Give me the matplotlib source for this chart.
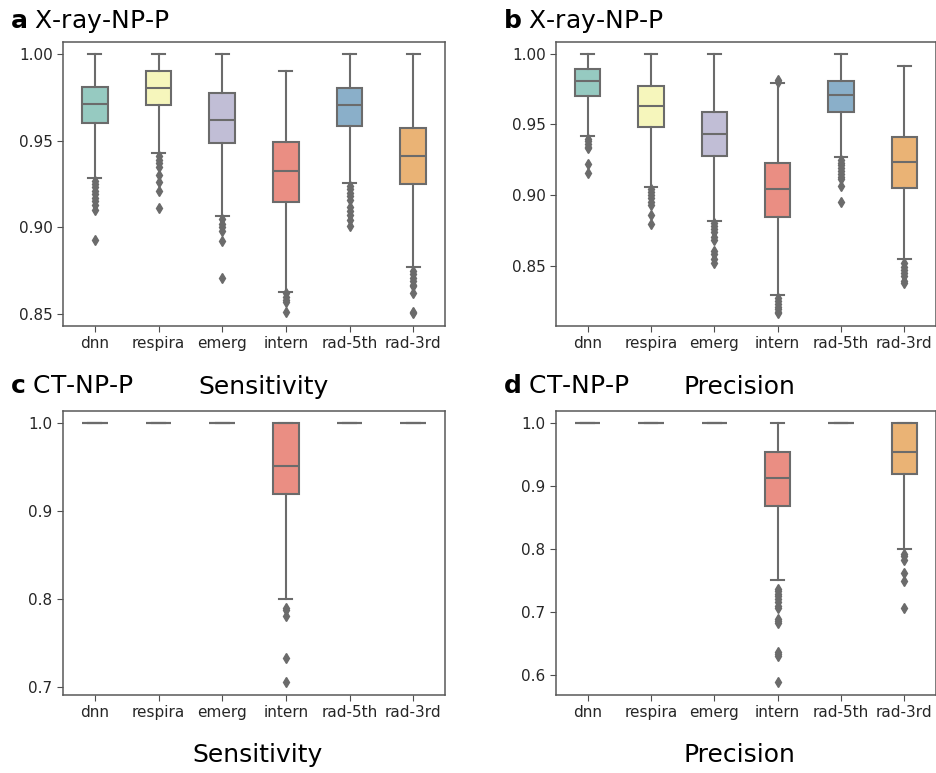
import matplotlib
matplotlib.use("Agg")
import matplotlib.pyplot as plt
import seaborn as sns

categories = ["dnn", "respira", "emerg", "intern", "rad-5th", "rad-3rd"]

# Each box: [whislo, q1, median, q3, whishi], fliers list
a_stats = [
    [0.9287, 0.960, 0.9712, 0.9806, 1.00],
    [0.9428, 0.9707, 0.9804, 0.9898, 1.00],
    [0.9066, 0.9488, 0.962, 0.9774, 1.00],
    [0.8627, 0.9145, 0.9327, 0.9494, 0.990],
    [0.9256, 0.9582, 0.9703, 0.9804, 1.00],
    [0.877, 0.9248, 0.9411, 0.957, 1.00],
]
a_fliers = [
    [0.927, 0.925, 0.923, 0.921, 0.919, 0.917, 0.915, 0.913, 0.910, 0.893],
    [0.941, 0.939, 0.937, 0.935, 0.930, 0.926, 0.921, 0.911],
    [0.905, 0.902, 0.900, 0.898, 0.892, 0.871],
    [0.862, 0.860, 0.858, 0.857, 0.8516],
    [0.924, 0.922, 0.920, 0.918, 0.916, 0.912, 0.9095, 0.907, 0.904, 0.9008],
    [0.875, 0.873, 0.871, 0.869, 0.867, 0.8663, 0.862, 0.8516, 0.8506],
]

b_stats = [
    [0.9417, 0.9698, 0.9804, 0.9894, 1.00],
    [0.9059, 0.948, 0.963, 0.9771, 1.00],
    [0.8818, 0.9276, 0.9434, 0.959, 1.00],
    [0.829, 0.8844, 0.904, 0.9226, 0.979],
    [0.9267, 0.959, 0.9705, 0.9809, 1.00],
    [0.8547, 0.9047, 0.9231, 0.9408, 0.9913],
]
b_fliers = [
    [0.940, 0.938, 0.936, 0.934, 0.933, 0.922, 0.9153],
    [0.904, 0.902, 0.900, 0.898, 0.895, 0.893, 0.8856, 0.8795],
    [0.880, 0.878, 0.876, 0.874, 0.870, 0.868, 0.8606, 0.858, 0.855, 0.852],
    [0.9814, 0.980, 0.827, 0.825, 0.823, 0.821, 0.819, 0.8175, 0.8165],
    [0.925, 0.923, 0.921, 0.919, 0.917, 0.915, 0.913, 0.911, 0.9064, 0.8948],
    [0.8517, 0.849, 0.847, 0.845, 0.843, 0.8395, 0.838],
]

c_stats = [
    [1.0, 1.0, 1.0, 1.0, 1.0],
    [1.0, 1.0, 1.0, 1.0, 1.0],
    [1.0, 1.0, 1.0, 1.0, 1.0],
    [0.80, 0.919, 0.9516, 1.0, 1.0],
    [1.0, 1.0, 1.0, 1.0, 1.0],
    [1.0, 1.0, 1.0, 1.0, 1.0],
]
c_fliers = [[], [], [], [0.7896, 0.788, 0.7813, 0.733, 0.7056], [], []]

d_stats = [
    [1.0, 1.0, 1.0, 1.0, 1.0],
    [1.0, 1.0, 1.0, 1.0, 1.0],
    [1.0, 1.0, 1.0, 1.0, 1.0],
    [0.75, 0.8688, 0.9127, 0.9545, 1.0],
    [1.0, 1.0, 1.0, 1.0, 1.0],
    [0.80, 0.919, 0.9545, 1.0, 1.0],
]
d_fliers = [[], [], [],
            [0.737, 0.733, 0.729, 0.725, 0.720, 0.715, 0.710, 0.706,
             0.688, 0.685, 0.682, 0.636, 0.633, 0.630, 0.5884],
            [], [0.7915, 0.788, 0.7825, 0.761, 0.749, 0.706]]

a_ticks = [0.85, 0.90, 0.95, 1.00]
b_ticks = [0.85, 0.90, 0.95, 1.00]
c_ticks = [0.7, 0.8, 0.9, 1.0]
d_ticks = [0.6, 0.7, 0.8, 0.9, 1.0]

palette = [sns.desaturate(c, 0.75) for c in sns.color_palette("Set3", 6)]
line_gray = (0.42, 0.42, 0.42)

W, H = 937, 773
fig = plt.figure(figsize=(W / 100, H / 100), dpi=100)


def px_axes(l, t, r, b):
    return fig.add_axes([l / W, 1 - b / H, (r - l) / W, (b - t) / H])


def draw(ax, stats, fliers, ylim, ticks, fmt):
    bxp_stats = []
    for s, f, lab in zip(stats, fliers, categories):
        bxp_stats.append(dict(whislo=s[0], q1=s[1], med=s[2], q3=s[3],
                              whishi=s[4], fliers=f, label=lab))
    pos = list(range(len(categories)))
    res = ax.bxp(bxp_stats, positions=pos, widths=0.4, patch_artist=True,
                 boxprops=dict(edgecolor=line_gray, linewidth=1.5),
                 whiskerprops=dict(color=line_gray, linewidth=1.5),
                 capprops=dict(color=line_gray, linewidth=1.5),
                 medianprops=dict(color=line_gray, linewidth=1.5),
                 flierprops=dict(marker='d', markerfacecolor=line_gray,
                                 markeredgecolor=line_gray, markersize=5,
                                 linestyle='none'))
    for patch, col in zip(res['boxes'], palette):
        patch.set_facecolor(col)
    ax.set_xlim(-0.5, len(categories) - 0.5)
    ax.set_ylim(*ylim)
    ax.set_yticks(ticks)
    ax.set_yticklabels([fmt.format(t) for t in ticks])
    ax.set_xticks(pos)
    ax.set_xticklabels(categories)
    ax.tick_params(labelsize=11, colors='0.15', length=4)
    ax.tick_params(axis='both', color='0.3')
    for sp in ax.spines.values():
        sp.set_color('0.35')
        sp.set_linewidth(1.1)


axa = px_axes(63, 42, 445, 326)
axb = px_axes(556, 42, 936, 326)
axc = px_axes(63, 411, 445, 695)
axd = px_axes(556, 411, 936, 695)

draw(axa, a_stats, a_fliers, (0.8433, 1.0067), a_ticks, "{:.2f}")
draw(axb, b_stats, b_fliers, (0.8073, 1.0083), b_ticks, "{:.2f}")
draw(axc, c_stats, c_fliers, (0.6913, 1.0136), c_ticks, "{:.1f}")
draw(axd, d_stats, d_fliers, (0.568, 1.019), d_ticks, "{:.1f}")


def ftext(x, y, s, **kw):
    fig.text(x / W, 1 - y / H, s, fontsize=18, va='baseline', **kw)


ftext(10, 28, r"$\bf{a}$ X-ray-NP-P")
ftext(503, 28, r"$\bf{b}$ X-ray-NP-P")
ftext(10, 393, r"$\bf{c}$ CT-NP-P")
ftext(503, 393, r"$\bf{d}$ CT-NP-P")
ftext(263, 394, "Sensitivity", ha='center')
ftext(739, 394, "Precision", ha='center')
ftext(258, 762, "Sensitivity", ha='center')
ftext(739, 762, "Precision", ha='center')

fig.savefig("out.png", dpi=100)
